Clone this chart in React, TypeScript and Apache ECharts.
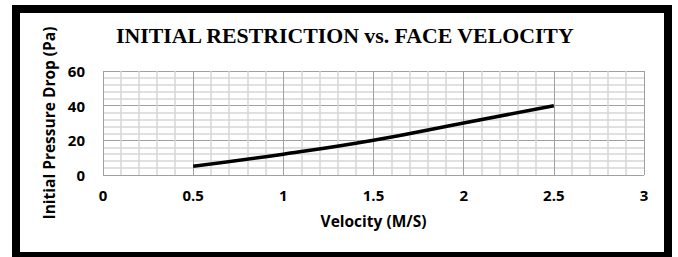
import React, { useEffect, useRef } from "react";
import * as echarts from "echarts";

const title = "INITIAL RESTRICTION vs. FACE VELOCITY";
const xName = "Velocity (M/S)";
const yName = "Initial Pressure Drop (Pa)";
const velocity = [0.5, 1, 1.5, 2, 2.5];
const pressureDrop = [5, 12, 20, 30, 40];

export default function App() {
  const ref = useRef<HTMLDivElement>(null);
  useEffect(() => {
    const chart = echarts.init(ref.current!, null, { renderer: "svg" });
    const labelFont = { fontFamily: "Open Sans", fontWeight: "bold" as const, fontSize: 15, color: "#000" };
    chart.setOption({
      animation: false,
      backgroundColor: "#fff",
      title: {
        text: title,
        left: 111,
        top: 20,
        textStyle: { fontFamily: "Liberation Serif", fontWeight: "bold", fontSize: 21.8, color: "#000" },
      },
      graphic: [
        {
          type: "rect",
          shape: { x: 16, y: 9, width: 652, height: 247 },
          style: { fill: "none", stroke: "#000", lineWidth: 8 },
          silent: true,
        },
      ],
      grid: { left: 103, right: 34, top: 71, bottom: 82 },
      xAxis: {
        type: "value",
        min: 0,
        max: 3,
        interval: 0.5,
        name: xName,
        nameLocation: "middle",
        nameGap: 38,
        nameTextStyle: { ...labelFont, fontSize: 15.5 },
        axisLine: { show: false },
        axisTick: { show: false },
        axisLabel: { ...labelFont, margin: 12 },
        splitLine: { show: true, lineStyle: { color: "#a0a0a0", width: 1 } },
        minorTick: { show: false, splitNumber: 5 },
        minorSplitLine: { show: true, lineStyle: { color: "#d6d6d6", width: 1.5 } },
      },
      yAxis: {
        type: "value",
        min: 0,
        max: 60,
        interval: 20,
        name: yName,
        nameLocation: "middle",
        nameGap: 25,
        nameRotate: 90,
        nameTextStyle: { ...labelFont, fontSize: 15.5 },
        axisLine: { show: false },
        axisTick: { show: false },
        axisLabel: { ...labelFont, margin: 18 },
        splitLine: { show: true, lineStyle: { color: "#a0a0a0", width: 1 } },
        minorTick: { show: false, splitNumber: 5 },
        minorSplitLine: { show: true, lineStyle: { color: "#d6d6d6", width: 1.5 } },
      },
      series: [
        {
          type: "line",
          data: velocity.map((v, i) => [v, pressureDrop[i]]),
          smooth: true,
          showSymbol: false,
          lineStyle: { color: "#000", width: 3.5 },
        },
      ],
    });
    return () => chart.dispose();
  }, []);
  return (
    <div
      ref={ref}
      style={{ position: "fixed", left: 0, top: 0, width: 678, height: 257 }}
    />
  );
}
